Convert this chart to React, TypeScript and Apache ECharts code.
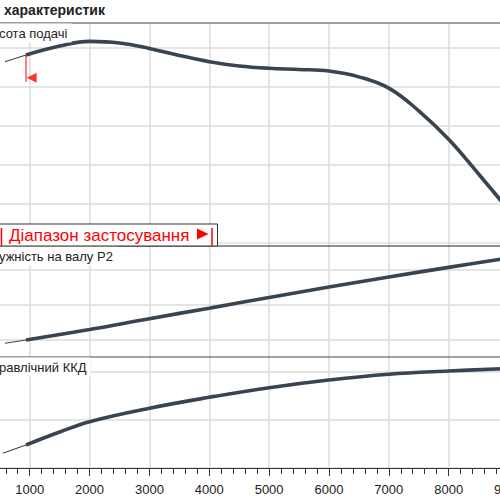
import React, { useEffect, useRef } from "react";
import * as echarts from "echarts";

// Flow axis (x), shared by all panels
const X_MIN = 0;
const X_MAX = 10000;
const X_STEP = 1000;

// Panel 1: Висота подачі (head)
const headThinQ = [587, 938];
const headThinH = [46.5, 48.2];
const headQ = [938, 1500, 2000, 2500, 3000, 3500, 4000, 4500, 5000, 5500, 6000, 6500, 7000, 7500, 8000, 8500, 9000];
const headH = [48.2, 50.5, 51.7, 51.3, 49.9, 48.1, 46.5, 45.4, 44.8, 44.5, 44.1, 42.6, 39.7, 33.9, 26.6, 17.7, 8.5];

// Range start marker (in panel 1 units)
const rangeStartQ = 938;
const rangeMarkH = [48.2, 41.3];
const rangeArrow = [1033, 42.4];

// Panel 2: Потужність на валу P2
const powerThinQ = [587, 938];
const powerThinP = [1.81, 2.0];
const powerQ = [938, 2000, 3000, 4000, 5000, 6000, 7000, 8000, 9000];
const powerP = [2.0, 2.6, 3.22, 3.82, 4.43, 5.03, 5.6, 6.15, 6.69];

// Panel 3: Гідравлічний ККД
const effThinQ = [550, 938];
const effThinE = [12.3, 19.2];
const effQ = [938, 1500, 2000, 3000, 4000, 5000, 6000, 7000, 8000, 9000];
const effE = [19.2, 30.0, 38.6, 49.8, 58.9, 66.9, 73.3, 78.1, 80.8, 82.9];

const zip = (a: number[], b: number[]) => a.map((v, i) => [v, b[i]]);

const CURVE = "#3a4450";
const GRIDC = "#dcdcdc";
const FONT = '"Liberation Sans", Arial, sans-serif';
const OX = 40; // chart div is shifted left by OX px

export default function App() {
  const ref = useRef<HTMLDivElement>(null);
  useEffect(() => {
    if (!ref.current) return;
    const chart = echarts.init(ref.current, undefined, { renderer: "svg" });
    const gl = OX - 30.15;
    const gw = 598.5;
    const hiddenX = (gi: number) => ({
      type: "value",
      gridIndex: gi,
      min: X_MIN,
      max: X_MAX,
      interval: X_STEP,
      show: false,
      splitLine: { show: false },
    });
    const yAx = (gi: number, min: number, max: number, interval: number, show: boolean) => ({
      type: "value",
      gridIndex: gi,
      min,
      max,
      interval,
      axisLine: { show: false },
      axisTick: { show: false },
      axisLabel: { show: false },
      splitLine: { show, lineStyle: { color: GRIDC, width: 1.5 } },
    });
    const thin = (xi: number, data: number[][]) => ({
      type: "line",
      xAxisIndex: xi,
      yAxisIndex: xi,
      data,
      symbol: "none",
      clip: false,
      lineStyle: { color: CURVE, width: 1.1 },
      z: 5,
    });
    const thick = (xi: number, data: number[][]) => ({
      type: "line",
      xAxisIndex: xi,
      yAxisIndex: xi,
      data,
      symbol: "none",
      smooth: 0.4,
      clip: false,
      lineStyle: { color: CURVE, width: 3.6 },
      z: 6,
    });
    const label = (text: string, y: number) => ({
      type: "text",
      x: OX - 1,
      y,
      z: 50,
      style: {
        text,
        fill: "#222",
        font: "13px " + FONT,
        verticalAlign: "middle",
        backgroundColor: "#fff",
        padding: [3, 4, 3, 0],
      },
    });
    const hline = (y: number, color: string, width: number) => ({
      type: "line",
      z: 40,
      shape: { x1: OX, y1: y, x2: OX + 500, y2: y },
      style: { stroke: color, lineWidth: width },
    });

    chart.setOption({
      animation: false,
      backgroundColor: "#fff",
      grid: [
        { left: gl, width: gw, top: 23, height: 445 },
        { left: gl, width: gw, top: 48, height: 195 },
        { left: gl, width: gw, top: 270, height: 70 },
        { left: gl, width: gw, top: 372, height: 96 },
      ],
      xAxis: [
        {
          type: "value",
          gridIndex: 0,
          min: X_MIN,
          max: X_MAX,
          interval: X_STEP,
          axisLine: { show: true, lineStyle: { color: "#333", width: 1.2 } },
          axisTick: { show: true, length: 8, lineStyle: { color: "#333" } },
          minorTick: { show: true, splitNumber: 5, length: 6, lineStyle: { color: "#333" } },
          axisLabel: {
            margin: 15,
            fontSize: 13,
            fontFamily: FONT,
            color: "#222",
            formatter: (v: number) => (v === X_MIN || v === X_MAX ? "" : String(v)),
          },
          splitLine: { show: true, lineStyle: { color: GRIDC, width: 1.5 } },
        },
        hiddenX(1),
        hiddenX(2),
        hiddenX(3),
      ],
      yAxis: [
        { ...yAx(0, 0, 1, 1, false), show: false },
        yAx(1, 0, 50, 10, true),
        yAx(2, 2, 6, 2, true),
        yAx(3, 0, 80, 40, true),
      ],
      series: [
        thin(1, zip(headThinQ, headThinH)),
        thick(1, zip(headQ, headH)),
        thin(2, zip(powerThinQ, powerThinP)),
        thick(2, zip(powerQ, powerP)),
        thin(3, zip(effThinQ, effThinE)),
        thick(3, zip(effQ, effE)),
        {
          type: "line",
          xAxisIndex: 1,
          yAxisIndex: 1,
          data: rangeMarkH.map((h) => [rangeStartQ, h]),
          symbol: "none",
          clip: false,
          lineStyle: { color: "#ff0000", width: 1 },
          z: 7,
        },
        {
          type: "scatter",
          xAxisIndex: 1,
          yAxisIndex: 1,
          data: [rangeArrow],
          symbol: "triangle",
          symbolRotate: 90,
          symbolSize: [10, 10],
          clip: false,
          itemStyle: { color: "#ff0000" },
          z: 7,
        },
      ],
      graphic: [
        hline(23, "#808080", 1.5),
        hline(246, "#222", 1.2),
        hline(357, "#444", 1.2),
        {
          type: "text",
          x: OX + 4,
          y: 10,
          z: 50,
          style: {
            text: "характеристик",
            fill: "#222",
            font: "bold 14px " + FONT,
            verticalAlign: "middle",
          },
        },
        label("сота подачі", 33),
        label("ужність на валу P2", 256),
        label("равлічний ККД", 367),
        {
          type: "rect",
          z: 60,
          shape: { x: OX - 5, y: 224, width: 222.5, height: 22 },
          style: { fill: "#fff", stroke: "#333", lineWidth: 1 },
        },
        {
          type: "text",
          x: OX + 9,
          y: 235,
          z: 61,
          style: {
            text: "Діапазон застосування",
            fill: "#ff0000",
            font: "17px " + FONT,
            verticalAlign: "middle",
          },
        },
        {
          type: "polygon",
          z: 61,
          shape: { points: [[OX + 197, 228.5], [OX + 208.5, 234], [OX + 197, 239.5]] },
          style: { fill: "#ff0000" },
        },
        {
          type: "line",
          z: 61,
          shape: { x1: OX + 212, y1: 228, x2: OX + 212, y2: 246 },
          style: { stroke: "#ff0000", lineWidth: 1.5 },
        },
        {
          type: "line",
          z: 61,
          shape: { x1: OX + 1.5, y1: 228, x2: OX + 1.5, y2: 246 },
          style: { stroke: "#ff0000", lineWidth: 1.5 },
        },
      ],
    });
    return () => chart.dispose();
  }, []);
  return (
    <div
      ref={ref}
      style={{ position: "fixed", left: -OX, top: 0, width: 620, height: 500 }}
    />
  );
}
